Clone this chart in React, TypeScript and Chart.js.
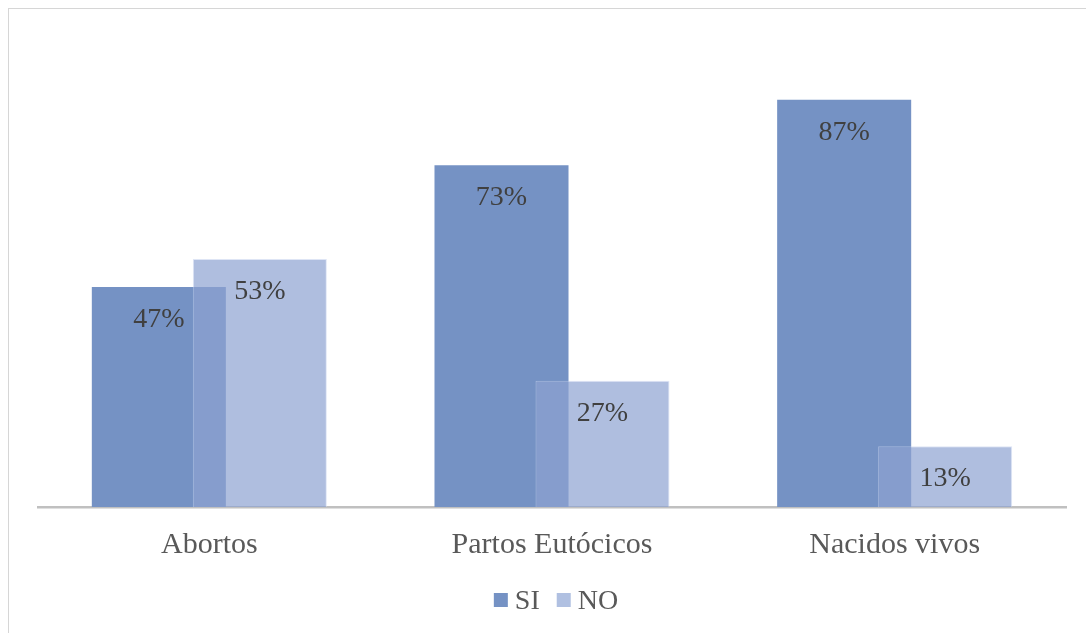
import React, { useEffect, useRef } from "react";
import { Chart, registerables } from "chart.js";

Chart.register(...registerables);

const categories = ["Abortos", "Partos Eutócicos", "Nacidos vivos"];
const siValues = [47, 73, 87];
const noValues = [53, 27, 13];
const seriesNames = ["SI", "NO"];

const SI_COLOR = "rgb(117,146,196)";
const NO_COLOR = "rgba(141,162,210,0.7)";
const NO_SWATCH = "rgb(176,192,225)";
const SERIF = "'Liberation Serif', 'Times New Roman', serif";

// Draw the second series (NO) on top of the first, as in the original chart
const overlapOrder = {
  id: "overlapOrder",
  beforeDatasetDraw(chart: any, args: any) {
    if (args.index === 1 && !chart.$drawingTop) return false;
    return true;
  },
  afterDatasetsDraw(chart: any) {
    const meta = chart.getDatasetMeta(1);
    if (!meta || meta.hidden) return;
    chart.$drawingTop = true;
    const ctx = chart.ctx;
    ctx.save();
    meta.controller.draw();
    ctx.restore();
    chart.$drawingTop = false;
  },
};

const valueLabels = {
  id: "valueLabels",
  afterDatasetsDraw(chart: any) {
    const ctx = chart.ctx;
    ctx.save();
    ctx.font = `28px ${SERIF}`;
    ctx.fillStyle = "#404040";
    ctx.textAlign = "center";
    ctx.textBaseline = "alphabetic";
    chart.data.datasets.forEach((ds: any, di: number) => {
      const meta = chart.getDatasetMeta(di);
      meta.data.forEach((bar: any, i: number) => {
        ctx.fillText(ds.data[i] + "%", bar.x, bar.y + 40);
      });
    });
    ctx.restore();
  },
};

const customLegend = {
  id: "customLegend",
  afterDraw(chart: any) {
    const ctx = chart.ctx;
    const area = chart.chartArea;
    ctx.save();
    ctx.font = `28px ${SERIF}`;
    const box = 14;
    const gap = 7;
    const itemGap = 17;
    const swatches = [SI_COLOR, NO_SWATCH];
    const widths = chart.data.datasets.map((ds: any) => ctx.measureText(ds.label).width);
    let total = 0;
    widths.forEach((w: number, i: number) => {
      total += box + gap + w + (i < widths.length - 1 ? itemGap : 0);
    });
    let x = (area.left + area.right) / 2 + 4 - total / 2;
    const cy = 600;
    chart.data.datasets.forEach((ds: any, i: number) => {
      ctx.fillStyle = swatches[i];
      ctx.fillRect(x, cy - box / 2, box, box);
      x += box + gap;
      ctx.fillStyle = "#595959";
      ctx.textAlign = "left";
      ctx.textBaseline = "alphabetic";
      ctx.fillText(ds.label, x, cy + 9);
      x += widths[i] + itemGap;
    });
    ctx.restore();
  },
};

export default function App() {
  const canvasRef = useRef<HTMLCanvasElement | null>(null);

  useEffect(() => {
    document.body.style.margin = "0";
    const canvas = canvasRef.current;
    if (!canvas) return;
    const chart = new Chart(canvas, {
      type: "bar",
      data: {
        labels: categories,
        datasets: [
          {
            label: seriesNames[0],
            data: siValues,
            backgroundColor: SI_COLOR,
            borderWidth: 0,
            categoryPercentage: 0.5895,
            barPercentage: 1.327,
          },
          {
            label: seriesNames[1],
            data: noValues,
            backgroundColor: NO_COLOR,
            borderColor: "rgba(200,212,238,0.6)",
            borderWidth: 1,
            categoryPercentage: 0.5895,
            barPercentage: 1.327,
          },
        ],
      },
      options: {
        animation: false,
        responsive: false,
        maintainAspectRatio: false,
        layout: { padding: { top: 39, left: 38, right: 20, bottom: 50 } },
        plugins: {
          legend: { display: false },
          tooltip: { enabled: false },
        },
        scales: {
          x: {
            grid: { display: false, drawTicks: false },
            border: { display: true, color: "#c0c0c0", width: 2.5 },
            ticks: {
              color: "#595959",
              font: { family: SERIF, size: 30 },
              padding: 20,
            },
          },
          y: {
            display: false,
            min: 0,
            max: 100,
          },
        },
      },
      plugins: [overlapOrder, valueLabels, customLegend],
    });
    return () => chart.destroy();
  }, []);

  return (
    <div style={{ position: "fixed", left: 0, top: 0, width: 1086, height: 633, overflow: "hidden", background: "#fff" }}>
      <div
        style={{
          position: "absolute",
          left: 8,
          top: 8,
          width: 1100,
          height: 660,
          borderLeft: "1.5px solid #d6d6d6",
          borderTop: "1.5px solid #d6d6d6",
          boxSizing: "border-box",
        }}
      />
      <canvas ref={canvasRef} width={1086} height={633} style={{ position: "absolute", left: 0, top: 0, width: 1086, height: 633 }} />
    </div>
  );
}
